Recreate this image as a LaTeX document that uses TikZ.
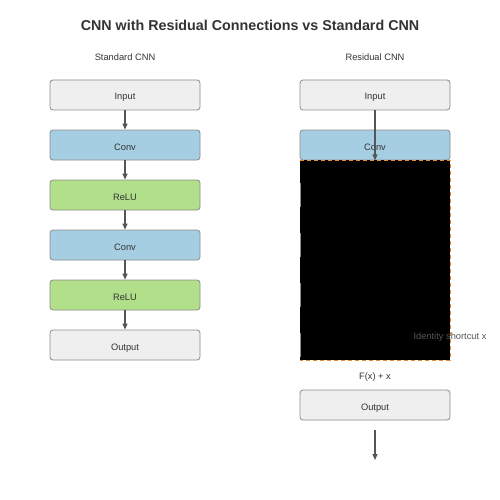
\documentclass[tikz,border=0pt]{standalone}
\usepackage{fontspec}
\setmainfont{Liberation Sans}
\usetikzlibrary{arrows.meta}
\definecolor{boxgray}{HTML}{EFEFEF}
\definecolor{boxborder}{HTML}{8C8C8C}
\definecolor{convblue}{HTML}{A6CEE3}
\definecolor{relugreen}{HTML}{B2DF8A}
\definecolor{txt}{HTML}{333333}
\definecolor{arr}{HTML}{555555}
\definecolor{dashorange}{HTML}{E8892B}
\begin{document}
\begin{tikzpicture}[x=1pt,y=-1pt,
  layer/.style={draw=boxborder, line width=0.8pt, rounded corners=3pt, minimum width=150pt, minimum height=30pt, inner sep=0pt, text=txt, text height=10pt, text depth=0pt, font=\fontsize{9.3}{10}\selectfont},
  plain/.style={layer, fill=boxgray},
  conv/.style={layer, fill=convblue},
  relu/.style={layer, fill=relugreen},
  link/.style={draw=arr, line width=1.2pt, -{Triangle[length=6pt,width=5pt]}},
  lbl/.style={text=txt, font=\fontsize{9.3}{10}\selectfont, inner sep=0pt}]
\path[use as bounding box, fill=white] (0,0) rectangle (500,500);
\node[font=\fontsize{14.3}{16}\selectfont\bfseries, text=txt] (title) at (250,25) {CNN with Residual Connections vs Standard CNN};
\node[lbl] (stdlabel) at (125,57.5) {Standard CNN};
\node[lbl] (reslabel) at (375,57.5) {Residual CNN};
% standard
\node[plain] (s1) at (125,95) {Input};
\node[conv] (s2) at (125,145) {Conv};
\node[relu] (s3) at (125,195) {ReLU};
\node[conv] (s4) at (125,245) {Conv};
\node[relu] (s5) at (125,295) {ReLU};
\node[plain] (s6) at (125,345) {Output};
\foreach \a/\b in {s1/s2,s2/s3,s3/s4,s4/s5,s5/s6}
  \draw[link] (\a.south) -- (\b.north);
% residual
\node[plain] (r1) at (375,95) {Input};
\node[conv] (r2) at (375,145) {Conv};
\coordinate (blk1) at (300,160);
\coordinate (blk2) at (450,360);
\fill[black] (blk1) rectangle (blk2);
\foreach \y in {183,233,283,333}
  \draw[boxborder, line width=0.8pt] (300,\y) -- (300,\y+24);
\draw[dashorange, line width=1pt, dash pattern=on 4pt off 3pt] (300,160) -- (450,160) -- (450,360) -- (300,360);
\draw[link] (r1.south) -- (r2.south);
\node[lbl, text=arr] (ident) at (450,337.5) {Identity shortcut x};
\node[lbl] (fx) at (375,377.5) {F(x) + x};
\node[plain] (r6) at (375,405) {Output};
\coordinate (outend) at (375,460);
\draw[link] (375,430) -- (outend);
\end{tikzpicture}
\end{document}
